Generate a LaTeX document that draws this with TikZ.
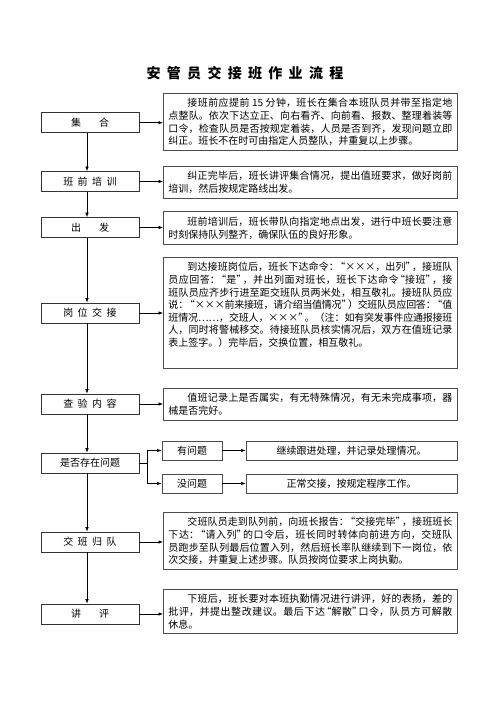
\documentclass[tikz,border=0pt]{standalone}
\usepackage{fontspec}
\setmainfont{Noto Sans CJK SC}
\usetikzlibrary{arrows.meta}
\XeTeXlinebreaklocale "zh"
\XeTeXlinebreakskip=0pt plus 2pt minus .6pt
\newcommand{\sk}{\hspace{.45em}}
\newcommand{\oq}{\kern-.35em“}
\newcommand{\cq}{”\kern-.35em}

\begin{document}
\begin{tikzpicture}[x=1pt,y=-1pt]
\tikzstyle{stepbox}=[draw=black!80, line width=.7pt, minimum width=98pt, minimum height=20pt, inner sep=0pt, font=\fontsize{10}{12}\selectfont]
\tikzstyle{descbox}=[draw=black!70, line width=.9pt, anchor=north west, text width=284pt, inner xsep=5pt, inner ysep=5pt, align=justify, font=\fontsize{10}{12.6}\selectfont]
\tikzstyle{smallbox}=[draw=black!70, line width=.9pt, minimum height=19pt, inner sep=0pt, font=\fontsize{10}{12}\selectfont]
\tikzstyle{arr}=[-{Latex[length=4.5pt,width=3.5pt]}, line width=.6pt]
\useasboundingbox (0,0) rectangle (500,708);

\node[font=\fontsize{14}{16}\selectfont\bfseries] (title) at (245,73) {安\sk 管\sk 员\sk 交\sk 接\sk 班\sk 作\sk 业\sk 流\sk 程};

% steps on the left
\node[stepbox] (s1) at (90,122.7) {集\hspace{1.8em}合};
\node[stepbox] (s2) at (90,181.5) {班\sk 前\sk 培\sk 训};
\node[stepbox] (s3) at (90,227.5) {出\hspace{1.8em}发};
\node[stepbox] (s4) at (90,313) {岗\sk 位\sk 交\sk 接};
\node[stepbox] (s5) at (90,404) {查\sk 验\sk 内\sk 容};
\node[stepbox] (s6) at (90,463) {是否存在问题};
\node[stepbox] (s7) at (90,542) {交\sk 班\sk 归\sk 队};
\node[stepbox] (s8) at (90,614) {讲\hspace{1.8em}评};

% descriptions on the right
\node[descbox] (d1) at (163,93) {\hspace*{1.9em}接班前应提前 15 分钟，班长在集合本班队员并带至指定地\linebreak
点整队。依次下达立正、向右看齐、向前看、报数、整理着装等\linebreak
口令，检查队员是否按规定着装，人员是否到齐，发现问题立即\linebreak
纠正。班长不在时可由指定人员整队，并重复以上步骤。};
\node[descbox] (d2) at (163,166) {\hspace*{1.9em}纠正完毕后，班长讲评集合情况，提出值班要求，做好岗前\linebreak
培训，然后按规定路线出发。};
\node[descbox] (d3) at (163,211.5) {\hspace*{1.9em}班前培训后，班长带队向指定地点出发，进行中班长要注意\linebreak
时刻保持队列整齐，确保队伍的良好形象。};
\node[descbox] (d4) at (163,257) {\hspace*{1.9em}到达接班岗位后，班长下达命令：\oq{}×××，出列\cq{}，接班队\linebreak
员应回答：\oq{}是\cq{}，并出列面对班长，班长下达命令\oq{}接班\cq{}，接\linebreak
班队员应齐步行进至距交班队员两米处，相互敬礼。接班队员应\linebreak
说：\oq{}×××前来接班，请介绍当值情况\cq{}）交班队员应回答：\oq{}值\linebreak
班情况……，交班人，×××\cq{}。（注：如有突发事件应通报接班\linebreak
人，同时将警械移交。待接班队员核实情况后，双方在值班记录\linebreak
表上签字。）完毕后，交换位置，相互敬礼。\par\rule{0pt}{15pt}};
\node[descbox] (d5) at (163,388) {\hspace*{1.9em}值班记录上是否属实，有无特殊情况，有无未完成事项，器\linebreak
械是否完好。};
\node[descbox] (d6) at (163,512) {\hspace*{1.9em}交班队员走到队列前，向班长报告：\oq{}交接完毕\cq{}，接班班长\linebreak
下达：\oq{}请入列\cq{}的口令后，班长同时转体向前进方向，交班队\linebreak
员跑步至队列最后位置入列，然后班长率队继续到下一岗位，依\linebreak
次交接，并重复上述步骤。队员按岗位要求上岗执勤。};
\node[descbox] (d7) at (163,589) {\hspace*{1.9em}下班后，班长要对本班执勤情况进行讲评，好的表扬，差的\linebreak
批评，并提出整改建议。最后下达\oq{}解散\cq{}口令，队员方可解散\linebreak
休息。};

% the two branches
\node[smallbox, minimum width=60pt] (y1) at (192,450.5) {有问题};
\node[smallbox, minimum width=211pt] (c1) at (351.5,450.5) {继续跟进处理，并记录处理情况。};
\node[smallbox, minimum width=60pt] (n1) at (192,483.5) {没问题};
\node[smallbox, minimum width=211pt] (c2) at (351.5,483.5) {正常交接，按规定程序工作。};
\coordinate (fork) at (147,463);

% down the spine
\foreach \a/\b in {s1/s2,s2/s3,s3/s4,s4/s5,s5/s6,s6/s7,s7/s8}
  \draw[arr] ([xshift=-3pt]\a.south) -- ([xshift=-3pt]\b.north);

% across to the texts
\foreach \a/\b in {s1/d1,s2/d2,s3/d3,s4/d4,s5/d5,s7/d6,s8/d7}
  \draw[arr] (\a.east) -- (\a.east -| \b.west);

\draw[line width=.6pt] (s6.east) -- (fork);
\draw[arr] (fork) |- (y1.west);
\draw[arr] (fork) |- (n1.west);
\draw[arr] (y1) -- (c1);
\draw[arr] (n1) -- (c2);

\end{tikzpicture}
\end{document}
